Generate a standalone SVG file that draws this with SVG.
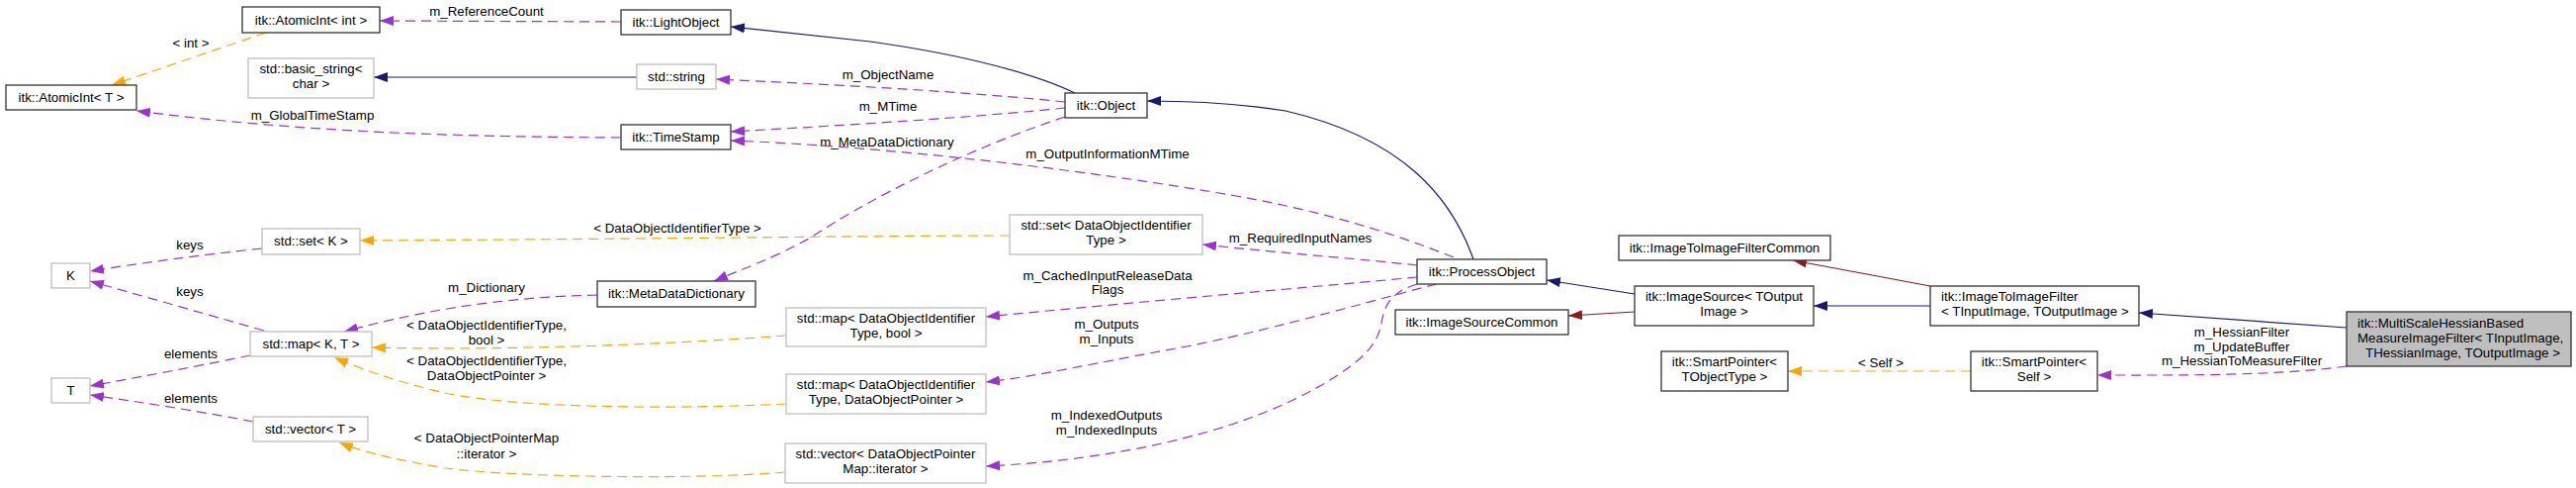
<svg xmlns="http://www.w3.org/2000/svg" width="2605" height="493" viewBox="0 0 2605 493">
<style>
text{font-family:"Liberation Sans",Arial,Helvetica,sans-serif;font-size:13.33px;fill:#000}
.c{text-anchor:middle}
.nb{fill:#fff;stroke:#333;stroke-width:1.3}
.ng{fill:#fff;stroke:#bfbfbf;stroke-width:1.3}
.nm{fill:#bfbfbf;stroke:#333;stroke-width:1.3}
.e{fill:none;stroke-width:1.2}
.nv{stroke:#191970;marker-end:url(#aN)}
.rd{stroke:#8b1a1a;marker-end:url(#aR)}
.pu{stroke:#9a32cd;stroke-dasharray:10,6;marker-end:url(#aP)}
.or{stroke:#ffa500;stroke-dasharray:10,6;marker-end:url(#aO)}
</style>
<defs>
<marker id="aN" viewBox="0 0 14 10" refX="14" refY="5" markerWidth="14" markerHeight="10" markerUnits="userSpaceOnUse" orient="auto"><path d="M0,0 L14,5 L0,10 z" fill="#191970"/></marker>
<marker id="aR" viewBox="0 0 14 10" refX="14" refY="5" markerWidth="14" markerHeight="10" markerUnits="userSpaceOnUse" orient="auto"><path d="M0,0 L14,5 L0,10 z" fill="#8b1a1a"/></marker>
<marker id="aP" viewBox="0 0 14 10" refX="14" refY="5" markerWidth="14" markerHeight="10" markerUnits="userSpaceOnUse" orient="auto"><path d="M0,0 L14,5 L0,10 z" fill="#9a32cd"/></marker>
<marker id="aO" viewBox="0 0 14 10" refX="14" refY="5" markerWidth="14" markerHeight="10" markerUnits="userSpaceOnUse" orient="auto"><path d="M0,0 L14,5 L0,10 z" fill="#ffa500"/></marker>
</defs>
<rect width="2605" height="493" fill="#fff"/>
<g id="connectors">
<path class="e or" d="M269,33 L113,86"/>
<text class="c" x="193" y="48">&lt; int &gt;</text>
<path class="e pu" d="M628,22 L384,21"/>
<text class="c" x="492" y="16">m_ReferenceCount</text>
<path class="e nv" d="M1087,94 C1050,76 980,56 880,42 L739,27"/>
<path class="e nv" d="M644,78 L378,78"/>
<path class="e pu" d="M1077,103 C1000,95 900,88 724,80"/>
<text class="c" x="898" y="80">m_ObjectName</text>
<path class="e pu" d="M1077,109 C1000,117 900,124 739,133"/>
<text class="c" x="898" y="112">m_MTime</text>
<path class="e pu" d="M628,139 C450,138 300,133 138,112"/>
<text class="c" x="316" y="121">m_GlobalTimeStamp</text>
<path class="e pu" d="M1077,118 C980,150 880,200 820,240 C780,262 750,272 722,284"/>
<text class="c" x="897" y="148">m_MetaDataDictionary</text>
<path class="e pu" d="M1470,260 C1400,232 1330,212 1250,198 C1100,172 900,148 739,142"/>
<text class="c" x="1120" y="160">m_OutputInformationMTime</text>
<path class="e pu" d="M1433,268 C1380,262 1300,256 1216,247"/>
<text class="c" x="1315" y="245">m_RequiredInputNames</text>
<path class="e or" d="M1021,238 C900,238 600,242 364,243"/>
<text class="c" x="685" y="235">&lt; DataObjectIdentifierType &gt;</text>
<path class="e pu" d="M265,251 C200,258 140,266 91,274"/>
<text class="c" x="192" y="252">keys</text>
<path class="e pu" d="M267,334 C200,315 140,298 91,284"/>
<text class="c" x="192" y="299">keys</text>
<path class="e pu" d="M253,359 C200,370 140,381 91,390"/>
<text class="c" x="193" y="362">elements</text>
<path class="e pu" d="M256,426 C200,415 140,406 91,399"/>
<text class="c" x="193" y="407">elements</text>
<path class="e pu" d="M604,298 C520,300 440,310 348,335"/>
<text class="c" x="492" y="295">m_Dictionary</text>
<path class="e or" d="M795,339 C650,350 480,354 376,351"/>
<text class="c" x="492" y="333">&lt; DataObjectIdentifierType,</text>
<text class="c" x="492" y="348">bool &gt;</text>
<path class="e or" d="M795,408 C680,414 520,412 450,397 C410,388 370,375 338,361"/>
<text class="c" x="492" y="369">&lt; DataObjectIdentifierType,</text>
<text class="c" x="492" y="384">DataObjectPointer &gt;</text>
<path class="e or" d="M794,477 C700,485 520,482 450,473 C410,466 370,458 343,447"/>
<text class="c" x="492" y="447">&lt; DataObjectPointerMap</text>
<text class="c" x="492" y="463">::iterator &gt;</text>
<path class="e pu" d="M1433,280 C1350,288 1150,305 997,320"/>
<text class="c" x="1120" y="283">m_CachedInputReleaseData</text>
<text class="c" x="1120" y="297">Flags</text>
<path class="e pu" d="M1453,287 C1400,300 1300,330 1200,350 C1100,368 1050,380 997,386"/>
<text class="c" x="1119" y="332">m_Outputs</text>
<text class="c" x="1119" y="347">m_Inputs</text>
<path class="e pu" d="M1433,287 C1410,294 1400,305 1397,327 C1393,345 1385,360 1340,387 C1250,440 1120,465 997,471"/>
<text class="c" x="1119" y="424">m_IndexedOutputs</text>
<text class="c" x="1119" y="439">m_IndexedInputs</text>
<path class="e nv" d="M1490,262 C1468,200 1420,140 1300,112 C1250,104 1200,102 1160,102"/>
<path class="e nv" d="M1653,297 L1564,283"/>
<path class="e rd" d="M1653,315 L1586,319"/>
<path class="e nv" d="M1952,309 L1834,309"/>
<path class="e rd" d="M1952,289 L1813,263"/>
<path class="e or" d="M1993,375 L1808,375"/>
<text class="c" x="1902" y="371">&lt; Self &gt;</text>
<path class="e pu" d="M2373,370 C2300,380 2200,379 2121,379"/>
<text class="c" x="2267" y="340">m_HessianFilter</text>
<text class="c" x="2267" y="355">m_UpdateBuffer</text>
<text class="c" x="2267" y="369">m_HessianToMeasureFilter</text>
<path class="e nv" d="M2373,331 L2163,316"/>
</g>
<g id="n_atomicint_int"><rect class="nb" x="245" y="7" width="139" height="26"/><text class="c" x="314.5" y="24.5">itk::AtomicInt&lt; int &gt;</text></g>
<g id="n_atomicint_T"><rect class="nb" x="6" y="86" width="132" height="25"/><text class="c" x="72" y="103">itk::AtomicInt&lt; T &gt;</text></g>
<g id="n_basic_string"><rect class="ng" x="251" y="59" width="127" height="40"/><text class="c" x="314.5" y="74">std::basic_string&lt;</text><text class="c" x="314.5" y="89">char &gt;</text></g>
<g id="n_set_K"><rect class="ng" x="265" y="231" width="99" height="26"/><text class="c" x="314.5" y="248">std::set&lt; K &gt;</text></g>
<g id="n_K"><rect class="ng" x="52" y="266" width="39" height="25"/><text class="c" x="71.5" y="283">K</text></g>
<g id="n_map_KT"><rect class="ng" x="253" y="335" width="123" height="25"/><text class="c" x="314.5" y="352">std::map&lt; K, T &gt;</text></g>
<g id="n_T"><rect class="ng" x="52" y="382" width="39" height="25"/><text class="c" x="71.5" y="399">T</text></g>
<g id="n_vector_T"><rect class="ng" x="256" y="421" width="116" height="25"/><text class="c" x="314" y="438">std::vector&lt; T &gt;</text></g>
<g id="n_lightobject"><rect class="nb" x="628" y="10" width="111" height="25"/><text class="c" x="683.5" y="27">itk::LightObject</text></g>
<g id="n_string"><rect class="ng" x="644" y="65" width="80" height="25"/><text class="c" x="684" y="82">std::string</text></g>
<g id="n_timestamp"><rect class="nb" x="628" y="126" width="111" height="25"/><text class="c" x="683.5" y="143">itk::TimeStamp</text></g>
<g id="n_metadatadictionary"><rect class="nb" x="604" y="284" width="160" height="26"/><text class="c" x="684" y="301">itk::MetaDataDictionary</text></g>
<g id="n_map_bool"><rect class="ng" x="795" y="311" width="202" height="39"/><text class="c" x="896" y="326">std::map&lt; DataObjectIdentifier</text><text class="c" x="896" y="341">Type, bool &gt;</text></g>
<g id="n_map_ptr"><rect class="ng" x="795" y="378" width="202" height="40"/><text class="c" x="896" y="393">std::map&lt; DataObjectIdentifier</text><text class="c" x="896" y="408">Type, DataObjectPointer &gt;</text></g>
<g id="n_vector_iter"><rect class="ng" x="794" y="448" width="203" height="40"/><text class="c" x="895.5" y="463">std::vector&lt; DataObjectPointer</text><text class="c" x="895.5" y="478">Map::iterator &gt;</text></g>
<g id="n_object"><rect class="nb" x="1077" y="94" width="83" height="25"/><text class="c" x="1118.5" y="111">itk::Object</text></g>
<g id="n_set_doi"><rect class="ng" x="1021" y="217" width="195" height="40"/><text class="c" x="1118.5" y="232">std::set&lt; DataObjectIdentifier</text><text class="c" x="1118.5" y="247">Type &gt;</text></g>
<g id="n_processobject"><rect class="nb" x="1433" y="262" width="131" height="25"/><text class="c" x="1498.5" y="279">itk::ProcessObject</text></g>
<g id="n_imagesourcecommon"><rect class="nb" x="1411" y="313" width="175" height="25"/><text class="c" x="1498.5" y="330">itk::ImageSourceCommon</text></g>
<g id="n_imagesource"><rect class="nb" x="1653" y="289" width="181" height="40"/><text class="c" x="1743.5" y="304">itk::ImageSource&lt; TOutput</text><text class="c" x="1743.5" y="319">Image &gt;</text></g>
<g id="n_imagetoimagefiltercommon"><rect class="nb" x="1637" y="238" width="214" height="25"/><text class="c" x="1744" y="255">itk::ImageToImageFilterCommon</text></g>
<g id="n_smartpointer_tobj"><rect class="nb" x="1680" y="355" width="128" height="40"/><text class="c" x="1744" y="370">itk::SmartPointer&lt;</text><text class="c" x="1744" y="385">TObjectType &gt;</text></g>
<g id="n_imagetoimagefilter"><rect class="nb" x="1952" y="289" width="211" height="40"/><text x="1963" y="304">itk::ImageToImageFilter</text><text x="1963" y="319">&lt; TInputImage, TOutputImage &gt;</text></g>
<g id="n_smartpointer_self"><rect class="nb" x="1993" y="355" width="128" height="40"/><text class="c" x="2057" y="370">itk::SmartPointer&lt;</text><text class="c" x="2057" y="385">Self &gt;</text></g>
<g id="n_main"><rect class="nm" x="2373" y="315" width="227" height="55"/><text x="2384" y="331">itk::MultiScaleHessianBased</text><text x="2384" y="346">MeasureImageFilter&lt; TInputImage,</text><text x="2392" y="361">THessianImage, TOutputImage &gt;</text></g>
</svg>
